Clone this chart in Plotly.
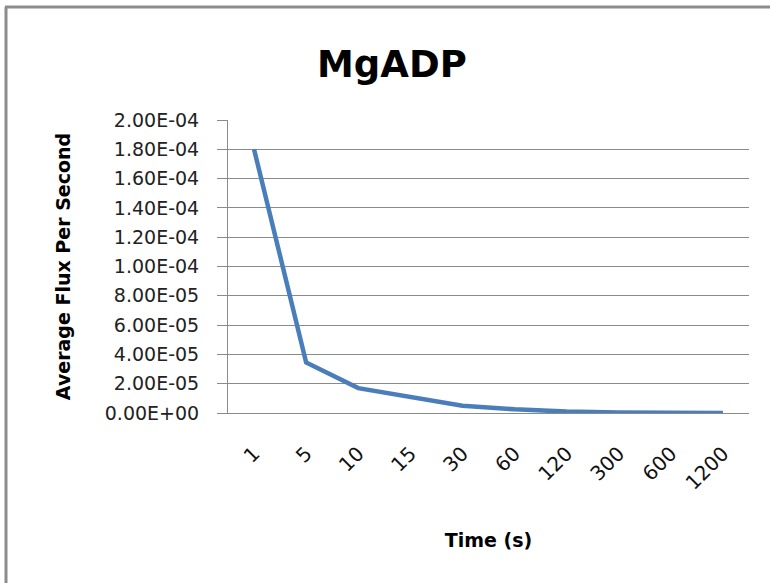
import plotly.graph_objects as go

times = ["1", "5", "10", "15", "30", "60", "120", "300", "600", "1200"]
flux = [1.80e-4, 3.45e-5, 1.70e-5, 1.10e-5, 5.0e-6, 2.5e-6, 1.0e-6, 3e-7, 1e-7, 5e-8]
y_tickvals = [0, 2e-5, 4e-5, 6e-5, 8e-5, 1e-4, 1.2e-4, 1.4e-4, 1.6e-4, 1.8e-4, 2e-4]
y_ticktext = ["0.00E+00", "2.00E-05", "4.00E-05", "6.00E-05", "8.00E-05", "1.00E-04",
              "1.20E-04", "1.40E-04", "1.60E-04", "1.80E-04", "2.00E-04"]

FONT = "DejaVu Sans, sans-serif"
GRID = "#8a8a8a"

fig = go.Figure()
fig.add_trace(go.Scatter(
    x=times, y=flux, mode="lines",
    line=dict(color="#4A7EBB", width=4.5),
    showlegend=False, hoverinfo="x+y",
))

fig.update_layout(
    width=770, height=583,
    margin=dict(l=228, r=21, t=120, b=170),
    paper_bgcolor="white", plot_bgcolor="white",
    font=dict(family=FONT, color="#222222"),
    title=dict(text="<b>MgADP</b>", x=0.509, xanchor="center", y=0.89, yanchor="middle",
               yref="container", font=dict(size=37, color="black", family=FONT)),
    xaxis=dict(
        type="category", categoryorder="array", categoryarray=times,
        showgrid=False, showline=True, linecolor=GRID, linewidth=1,
        ticks="", tickangle=-45, tickfont=dict(size=20, color="#111111"),
        ticklabelstandoff=20,
        title=dict(text="<b>Time (s)</b>", font=dict(size=19, color="black"), standoff=40),
        range=[-0.5, 9.5],
    ),
    yaxis=dict(
        range=[0, 2e-4], tickvals=y_tickvals, ticktext=y_ticktext,
        showgrid=True, gridcolor=GRID, gridwidth=1,
        showline=True, linecolor=GRID, linewidth=1,
        ticks="outside", ticklen=10, tickcolor=GRID,
        tickfont=dict(size=19, color="#222222"),
        ticklabelstandoff=14,
        title=dict(text="<b>Average Flux Per Second</b>", font=dict(size=19, color="black"), standoff=29),
        zeroline=False,
    ),
    shapes=[
        dict(type="line", xref="paper", yref="paper",
             x0=(6 - 228) / 521, x1=(6 - 228) / 521,
             y0=(413 - 7) / 293, y1=(413 - 590) / 293,
             line=dict(color="#8c8c8c", width=3)),
        dict(type="line", xref="paper", yref="paper",
             x0=(5 - 228) / 521, x1=(775 - 228) / 521,
             y0=(413 - 7) / 293, y1=(413 - 7) / 293,
             line=dict(color="#8c8c8c", width=3)),
    ],
)

fig.write_html("out.html")
